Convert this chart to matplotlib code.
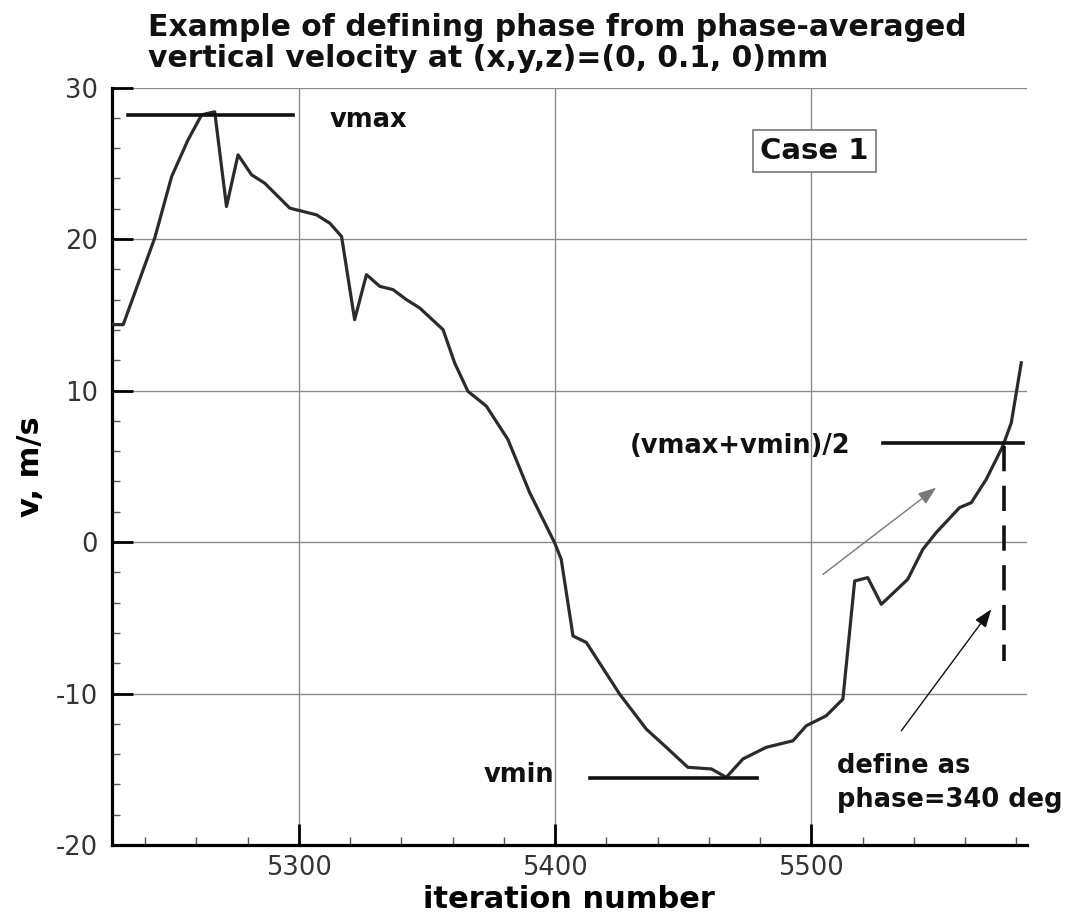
import matplotlib.pyplot as plt
from matplotlib.ticker import MultipleLocator

plt.rcParams['font.family'] = ['DejaVu Sans']
plt.rcParams['axes.unicode_minus'] = False

# phase-averaged vertical velocity
iteration = [5227.6, 5231.5, 5243.8, 5250.4, 5256.8, 5262.1, 5267.2, 5271.8, 5276.3,
             5281.6, 5286.7, 5296.5, 5306.9, 5312.1, 5316.7, 5321.8, 5326.4, 5331.6,
             5336.8, 5342.0, 5347.2, 5356.3, 5360.8, 5366.0, 5373.2, 5381.6, 5390.1,
             5399.8, 5402.4, 5407.0, 5412.2, 5425.2, 5435.6, 5443.4, 5451.8, 5461.0,
             5466.8, 5473.3, 5482.4, 5492.8, 5498.0, 5505.8, 5512.3, 5516.9, 5522.0,
             5527.3, 5537.6, 5543.5, 5548.7, 5557.8, 5562.4, 5568.2, 5574.7, 5578.0,
             5581.9]
v = [14.35, 14.35, 20.07, 24.13, 26.55, 28.2, 28.4, 22.15, 25.56,
     24.24, 23.69, 22.04, 21.6, 21.05, 20.17, 14.68, 17.65, 16.88,
     16.66, 16.0, 15.45, 14.02, 11.83, 9.95, 8.97, 6.77, 3.26,
     -0.04, -1.14, -6.2, -6.63, -10.04, -12.35, -13.55, -14.87, -14.98,
     -15.53, -14.32, -13.55, -13.12, -12.13, -11.47, -10.37, -2.57, -2.35,
     -4.11, -2.46, -0.48, 0.62, 2.27, 2.6, 4.13, 6.33, 7.87,
     11.83]

vmax = 28.2
vmin = -15.6
vmid = 6.55
vmax_span = [5233.4, 5297.8]
vmin_span = [5413.5, 5478.6]
vmid_span = [5527.9, 5582.5]
phase_iter = 5575.3
phase_drop = [6.33, -7.84]

fig = plt.figure(figsize=(10.8, 9.16), dpi=100)
ax = fig.add_axes([0.1034, 0.0775, 0.8472, 0.8269])

ax.plot(iteration, v, color='#2b2b2b', lw=2.3, zorder=3)
ax.plot(vmax_span, [vmax, vmax], color='#111111', lw=2.6, zorder=4)
ax.plot(vmin_span, [vmin, vmin], color='#111111', lw=2.6, zorder=4)
ax.plot(vmid_span, [vmid, vmid], color='#111111', lw=2.6, zorder=4)
ax.plot([phase_iter, phase_iter], phase_drop, color='#111111', lw=2.6,
        linestyle=(0, (7, 4)), zorder=4)

# arrows
ax.annotate('', xy=(5548.7, 3.59), xytext=(5504.5, -2.14),
            arrowprops=dict(arrowstyle='-|>,head_length=1.1,head_width=0.4',
                            color='#777777', lw=1.0, shrinkA=0, shrinkB=0))
ax.annotate('', xy=(5570.2, -4.44), xytext=(5535.1, -12.46),
            arrowprops=dict(arrowstyle='-|>,head_length=1.1,head_width=0.4',
                            color='#111111', lw=1.0, shrinkA=0, shrinkB=0))

txt = dict(fontsize=18.5, fontweight='bold', color='#111111', va='baseline')
ax.text(5312.1, 27.42, 'vmax', ha='left', **txt)
ax.text(5399.8, -15.86, 'vmin', ha='right', **txt)
ax.text(5429.1, 5.89, '(vmax+vmin)/2', ha='left', **txt)
ax.text(5510.0, -15.25, 'define as', ha='left', **txt)
ax.text(5510.0, -17.49, 'phase=340 deg', ha='left', **txt)
ax.text(5501.2, 25.8, 'Case 1', ha='center', va='center', fontsize=21,
        fontweight='bold', color='#111111',
        bbox=dict(boxstyle='square,pad=0.25', fc='white', ec='#777777', lw=1.2))

ax.set_xlim(5227, 5584)
ax.set_ylim(-20, 30)
ax.xaxis.set_major_locator(MultipleLocator(100))
ax.xaxis.set_minor_locator(MultipleLocator(20))
ax.yaxis.set_major_locator(MultipleLocator(10))
ax.yaxis.set_minor_locator(MultipleLocator(2))

ax.grid(True, which='major', color='#8a8a8a', lw=1.0)
ax.set_axisbelow(True)
ax.tick_params(which='major', direction='in', length=15, width=2.0,
               labelsize=18.5, labelcolor='#333333')
ax.tick_params(axis='x', which='major', pad=7)
ax.tick_params(axis='y', which='major', pad=10)
ax.tick_params(which='minor', direction='in', length=6, width=1.0, color='#555555')

for side in ['top', 'right']:
    ax.spines[side].set_visible(False)
for side in ['left', 'bottom']:
    ax.spines[side].set_linewidth(2.3)

ax.set_xlabel('iteration number', fontsize=22, fontweight='bold', va='baseline')
ax.xaxis.set_label_coords(0.5, -0.0832)
ax.set_ylabel('v, m/s', fontsize=22, fontweight='bold', va='center')
ax.yaxis.set_label_coords(-0.089, 0.5)

title_kw = dict(ha='left', va='baseline', fontsize=21.5, fontweight='bold', color='#111111')
fig.text(148 / 1080, 1 - 36 / 916, 'Example of defining phase from phase-averaged', **title_kw)
fig.text(148 / 1080, 1 - 66.7 / 916, 'vertical velocity at (x,y,z)=(0, 0.1, 0)mm', **title_kw)

plt.savefig('out.png', dpi=100, facecolor='white')
plt.close()
